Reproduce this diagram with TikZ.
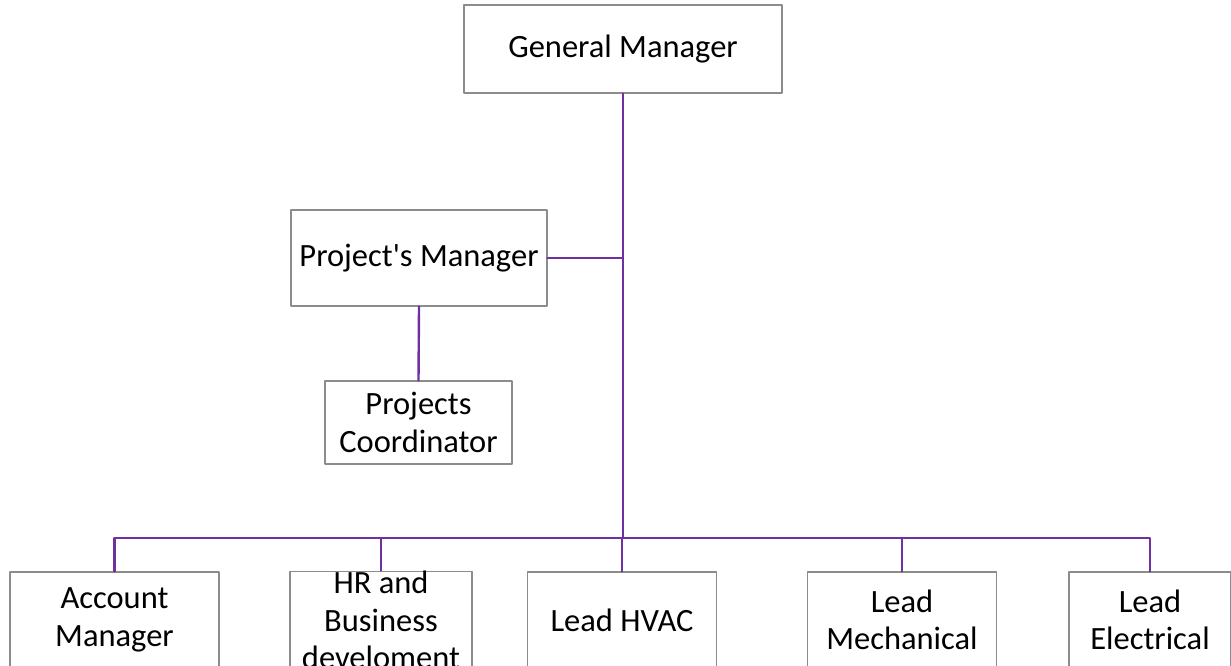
\documentclass[tikz,border=0pt]{standalone}
\usepackage{fontspec}
\setmainfont{Carlito}
\usepackage{tikz}
\usetikzlibrary{positioning}
\usetikzlibrary{calc}
\definecolor{linkpurple}{RGB}{112,48,160}
\definecolor{boxgray}{RGB}{140,140,140}
\tikzset{
	postbox/.style={draw=boxgray, line width=1.1pt, align=center, inner sep=0pt,
		font=\fontsize{32.5}{37.5}\selectfont, minimum height=96pt},
	link/.style={draw=linkpurple, line width=2.4pt}
}

\begin{document}
\begin{tikzpicture}[line cap=round,line join=round,x=1pt,y=-1pt]
	
	\useasboundingbox (0,0) rectangle (1231,666);
	\clip (0,0) rectangle (1231,666);
	
	\node [postbox, minimum width=318pt, minimum height=88pt] (gm) at (623,49) {General Manager};
	
	\node [postbox, minimum width=256pt] (pm) at (419,258) {Project\textquotesingle s Manager};
	\node [postbox, minimum width=187pt, minimum height=83pt] (pc) at (418.5,422.5) {Projects\\Coordinator};
	
	\node [postbox, minimum width=209pt] (am) at (114.5,620) {Account\\Manager};
	\node [postbox, minimum width=182pt] (hr) at (381,620) {HR and\\Business\\develoment};
	\node [postbox, minimum width=189pt] (hvac) at (622,620) {Lead HVAC};
	\node [postbox, minimum width=189pt] (mech) at (902,620) {Lead\\Mechanical};
	\node [postbox, minimum width=162pt] (elec) at (1150,620) {Lead\\Electrical};
	
	\coordinate (bus) at (623,538);
	
	\draw [link] (gm.south) -- (bus);
	\draw [link] (pm.east) -- (pm.east -| bus);
	\draw [link] (pm.south) -- (pc.north);
	\draw [link] (am.north) |- (bus) -| (elec.north);
	\foreach \n in {hr,hvac,mech}
		\draw [link] (\n.north) -- (\n.north |- bus);
	
\end{tikzpicture}
\end{document}
